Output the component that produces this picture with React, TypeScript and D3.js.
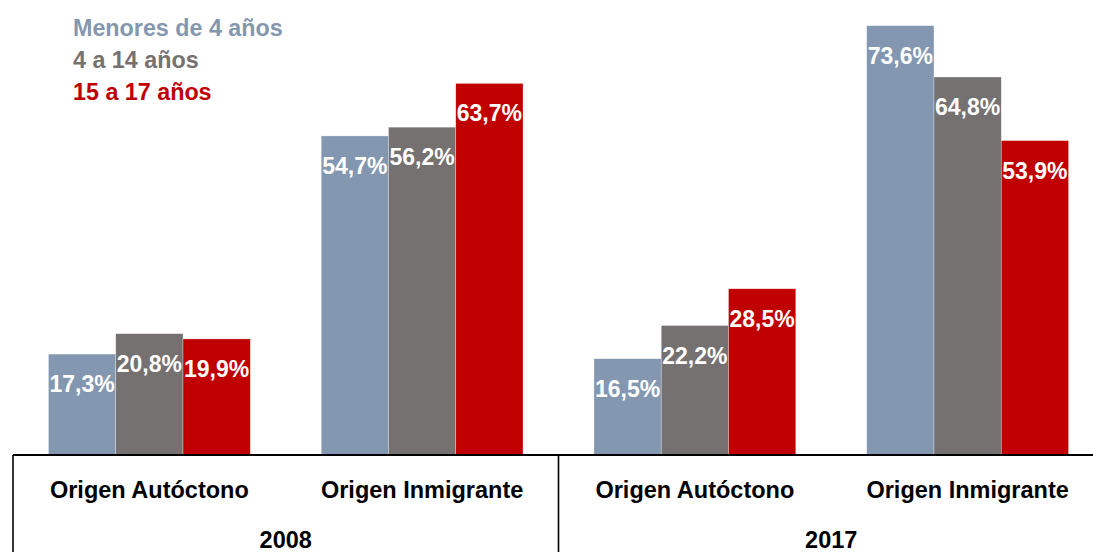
import React from "react";
import * as d3 from "d3";

const W = 1093;
const H = 552;

const groups = ["2008|Origen Autóctono", "2008|Origen Inmigrante", "2017|Origen Autóctono", "2017|Origen Inmigrante"];
const categoryLabels = ["Origen Autóctono", "Origen Inmigrante", "Origen Autóctono", "Origen Inmigrante"];
const years = ["2008", "2017"];
const seriesNames = ["Menores de 4 años", "4 a 14 años", "15 a 17 años"];
const seriesColors = ["#8497B0", "#767171", "#C00000"];
const menores4 = [17.3, 54.7, 16.5, 73.6];
const de4a14 = [20.8, 56.2, 22.2, 64.8];
const de15a17 = [19.9, 63.7, 28.5, 53.9];
const seriesValues = [menores4, de4a14, de15a17];

const FONT = "'Liberation Sans', Arial, sans-serif";

export default function App() {
  const baseline = 455;
  const x0 = d3.scaleBand<string>().domain(groups).range([13, 1104]).padding(0);
  const step = x0.step();
  const x1 = d3.scaleBand<string>().domain(seriesNames).range([step * 0.13, step * 0.87]).padding(0);
  const y = d3.scaleLinear().domain([0, 78]).range([baseline, 0]);
  const fmt = (v: number) => v.toFixed(1).replace(".", ",") + "%";

  const yearCenters = years.map((yr) => {
    const gs = groups.filter((g) => g.startsWith(yr));
    return d3.mean(gs, (g) => (x0(g) as number) + step / 2) as number;
  });
  const separators = [x0(groups[0]) as number, x0(groups[2]) as number];

  return (
    <svg width={W} height={H} style={{ position: "absolute", left: 0, top: 0, background: "#fff" }}>
      {groups.map((g, gi) => (
        <g key={g} transform={`translate(${x0(g)},0)`}>
          {seriesNames.map((s, si) => {
            const v = seriesValues[si][gi];
            const bx = x1(s) as number;
            const bw = x1.bandwidth();
            return (
              <g key={s}>
                <rect x={bx} y={y(v)} width={bw} height={baseline - y(v)} fill={seriesColors[si]} stroke="#ffffff" strokeOpacity={0.5} strokeWidth={0.6} />
                <text x={bx + bw / 2} y={y(v) + 38} textAnchor="middle" fill="#fff" fontFamily={FONT} fontWeight="bold" fontSize={23}>
                  {fmt(v)}
                </text>
              </g>
            );
          })}
          <text x={step / 2} y={498} textAnchor="middle" fill="#000" fontFamily={FONT} fontWeight="bold" fontSize={23.5}>
            {categoryLabels[gi]}
          </text>
        </g>
      ))}
      <line x1={13} x2={W} y1={baseline} y2={baseline} stroke="#000" strokeWidth={2} />
      {separators.map((sx, i) => (
        <line key={i} x1={sx} x2={sx} y1={baseline} y2={H} stroke="#000" strokeWidth={1.6} />
      ))}
      {years.map((yr, i) => (
        <text key={yr} x={yearCenters[i]} y={548} textAnchor="middle" fill="#000" fontFamily={FONT} fontWeight="bold" fontSize={23.5}>
          {yr}
        </text>
      ))}
      {seriesNames.map((s, i) => (
        <text key={s} x={73} y={36 + i * 32} fill={seriesColors[i]} fontFamily={FONT} fontWeight="bold" fontSize={23.3}>
          {s}
        </text>
      ))}
    </svg>
  );
}
